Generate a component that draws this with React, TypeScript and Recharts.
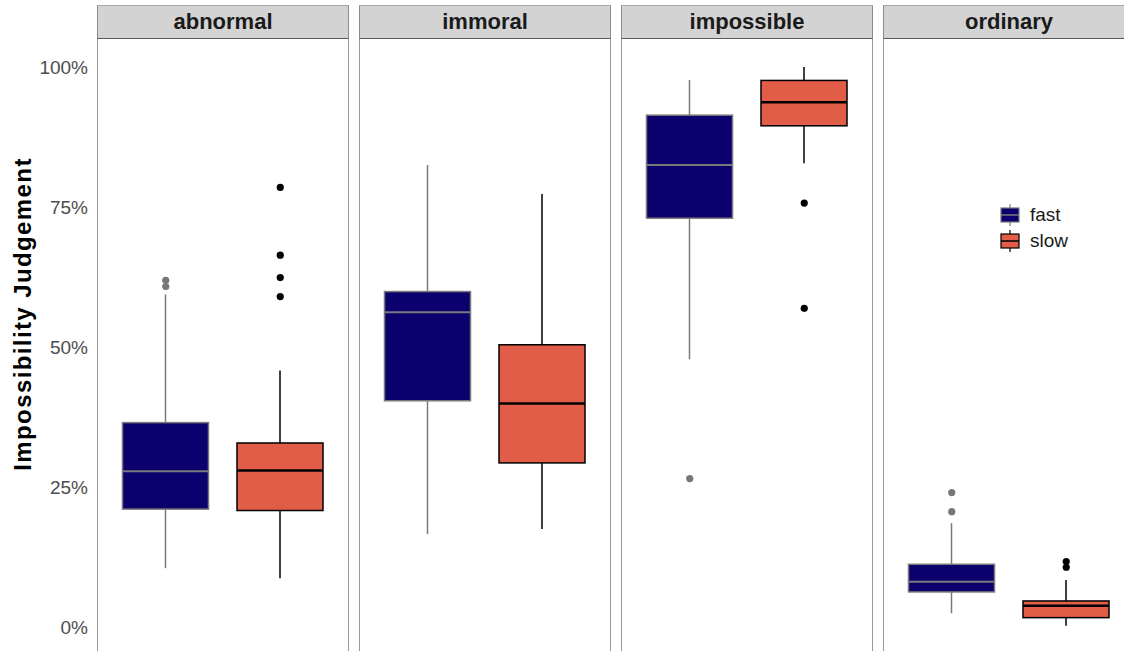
import React from "react";
import { ComposedChart, Bar, Scatter, XAxis, YAxis, Legend } from "recharts";

const facets = ["abnormal", "immoral", "impossible", "ordinary"];
const conditions = ["fast", "slow"];
const yTicks = [0, 0.25, 0.5, 0.75, 1];

// box stats per facet
const fastMin = [0.105, 0.166, 0.478, 0.0245];
const fastQ1 = [0.2105, 0.404, 0.73, 0.0626];
const fastMedian = [0.278, 0.562, 0.825, 0.081];
const fastQ3 = [0.365, 0.599, 0.914, 0.112];
const fastMax = [0.594, 0.825, 0.977, 0.1855];

const slowMin = [0.087, 0.175, 0.828, 0.0023];
const slowQ1 = [0.208, 0.293, 0.895, 0.0167];
const slowMedian = [0.2796, 0.399, 0.937, 0.038];
const slowQ3 = [0.3286, 0.504, 0.976, 0.0465];
const slowMax = [0.458, 0.773, 1.0, 0.084];

const fastOutliers = [[0.619, 0.608], [], [0.265], [0.24, 0.206]];
const slowOutliers = [[0.785, 0.664, 0.624, 0.59], [], [0.757, 0.569], [0.1168, 0.1067]];

const colors: Record<string, { fill: string; line: string; median: number }> = {
  fast: { fill: "#0b006e", line: "#7a7a7a", median: 2 },
  slow: { fill: "#e15d48", line: "#000000", median: 2.5 },
};

const FONT = '"Liberation Sans", Arial, Helvetica, sans-serif';
const PANEL_W = 252;
const PANEL_GAP = 10;
const PLOT_LEFT = 97;
const STRIP_TOP = 5;
const STRIP_H = 34;
const PLOT_H = 616;

function boxRows(i: number) {
  return [
    { cond: "fast", min: fastMin[i], q1: fastQ1[i], median: fastMedian[i], q3: fastQ3[i], max: fastMax[i] },
    { cond: "slow", min: slowMin[i], q1: slowQ1[i], median: slowMedian[i], q3: slowQ3[i], max: slowMax[i] },
  ];
}

function outlierRows(i: number) {
  return [
    ...fastOutliers[i].map((v) => ({ cond: "fast", value: v })),
    ...slowOutliers[i].map((v) => ({ cond: "slow", value: v })),
  ];
}

function BoxShape(props: any) {
  const { x, y, width, height, payload } = props;
  const top = Math.min(y, y + height);
  const h = Math.abs(height);
  const span = payload.max - payload.min;
  const toY = (v: number) => top + (h * (payload.max - v)) / span;
  const c = colors[payload.cond];
  const cx = x + width / 2;
  return (
    <g>
      <line x1={cx} x2={cx} y1={toY(payload.max)} y2={toY(payload.q3)} stroke={c.line} strokeWidth={1.5} />
      <line x1={cx} x2={cx} y1={toY(payload.q1)} y2={toY(payload.min)} stroke={c.line} strokeWidth={1.5} />
      <rect
        x={x}
        y={toY(payload.q3)}
        width={width}
        height={toY(payload.q1) - toY(payload.q3)}
        fill={c.fill}
        stroke={c.line}
        strokeWidth={1.5}
      />
      <line x1={x} x2={x + width} y1={toY(payload.median)} y2={toY(payload.median)} stroke={c.line} strokeWidth={c.median} />
    </g>
  );
}

function OutlierDot(props: any) {
  const { cx, cy, payload } = props;
  return <circle cx={cx} cy={cy} r={3.6} fill={payload.cond === "fast" ? "#777777" : "#000000"} />;
}

function LegendContent() {
  return (
    <div style={{ fontFamily: FONT, fontSize: 19, color: "#1a1a1a" }}>
      {conditions.map((c) => (
        <div key={c} style={{ display: "flex", alignItems: "center", height: 26 }}>
          <svg width={20} height={22} style={{ marginRight: 10 }}>
            <line x1={10} x2={10} y1={0} y2={22} stroke={colors[c].line} strokeWidth={1.2} />
            <rect x={1} y={4} width={18} height={14} fill={colors[c].fill} stroke={colors[c].line} strokeWidth={1.2} />
            <line x1={1} x2={19} y1={11} y2={11} stroke={colors[c].line} strokeWidth={1.5} />
          </svg>
          <span>{c}</span>
        </div>
      ))}
    </div>
  );
}

function YLabel(props: any) {
  const { viewBox } = props;
  const x = 22;
  const y = viewBox.y + viewBox.height / 2 - 33;
  return (
    <text
      x={x}
      y={y}
      transform={`rotate(-90, ${x}, ${y})`}
      textAnchor="middle"
      dominantBaseline="central"
      fontFamily={FONT}
      fontSize={24}
      fontWeight="bold"
      letterSpacing={1.4}
      fill="#000"
    >
      Impossibility Judgement
    </text>
  );
}

function Panel({ index }: { index: number }) {
  const first = index === 0;
  const panelLeft = PLOT_LEFT + index * (PANEL_W + PANEL_GAP);
  const chartLeft = first ? 0 : panelLeft;
  const chartW = first ? PLOT_LEFT + PANEL_W : PANEL_W;
  const outliers = outlierRows(index);
  return (
    <>
      <div
        style={{
          position: "absolute",
          left: panelLeft,
          top: STRIP_TOP,
          width: PANEL_W,
          height: STRIP_H,
          boxSizing: "border-box",
          background: "#d3d3d3",
          borderTop: "1px solid #a8a8a8",
          borderLeft: "1px solid #8c8c8c",
          borderRight: "1px solid #8c8c8c",
          borderBottom: "1.5px solid #5a5a5a",
          textAlign: "center",
          lineHeight: `${STRIP_H - 2}px`,
          fontFamily: FONT,
          fontWeight: "bold",
          fontSize: 22,
          color: "#1a1a1a",
        }}
      >
        {facets[index]}
      </div>
      <div
        style={{
          position: "absolute",
          left: panelLeft,
          top: STRIP_TOP + STRIP_H,
          width: PANEL_W,
          height: PLOT_H,
          boxSizing: "border-box",
          borderLeft: "1.5px solid #9a9a9a",
          borderRight: "1.5px solid #9a9a9a",
        }}
      />
      <div style={{ position: "absolute", left: chartLeft, top: STRIP_TOP + STRIP_H }}>
        <ComposedChart
          width={chartW}
          height={PLOT_H}
          data={boxRows(index)}
          margin={{ top: 0, right: 0, bottom: 0, left: 0 }}
        >
          <XAxis
            dataKey="cond"
            type="category"
            allowDuplicatedCategory={false}
            padding={{ left: 11.5, right: 11.5 }}
            hide
          />
          <YAxis
            type="number"
            domain={[-0.05, 1.05]}
            ticks={yTicks}
            hide={!first}
            width={PLOT_LEFT}
            axisLine={false}
            tickLine={false}
            tickSize={0}
            tickMargin={9}
            tickFormatter={(v: number) => `${Math.round(v * 100)}%`}
            tick={{ fontSize: 19, fill: "#4d4d4d", fontFamily: FONT }}
            label={first ? <YLabel /> : undefined}
          />
          <Bar
            dataKey={(d: any) => [d.min, d.max]}
            barSize={86}
            shape={<BoxShape />}
            isAnimationActive={false}
          />
          {outliers.length > 0 && (
            <Scatter
              data={outliers}
              dataKey="value"
              shape={<OutlierDot />}
              isAnimationActive={false}
            />
          )}
          {index === facets.length - 1 && (
            <Legend
              layout="vertical"
              align="center"
              verticalAlign="middle"
              content={<LegendContent />}
              wrapperStyle={{ top: 163, left: 117, width: 90 }}
            />
          )}
        </ComposedChart>
      </div>
    </>
  );
}

export default function App() {
  return (
    <div
      style={{
        position: "absolute",
        left: 0,
        top: 0,
        width: 1124,
        height: 651,
        overflow: "hidden",
        background: "#fff",
      }}
    >
      {facets.map((f, i) => (
        <Panel key={f} index={i} />
      ))}
    </div>
  );
}
